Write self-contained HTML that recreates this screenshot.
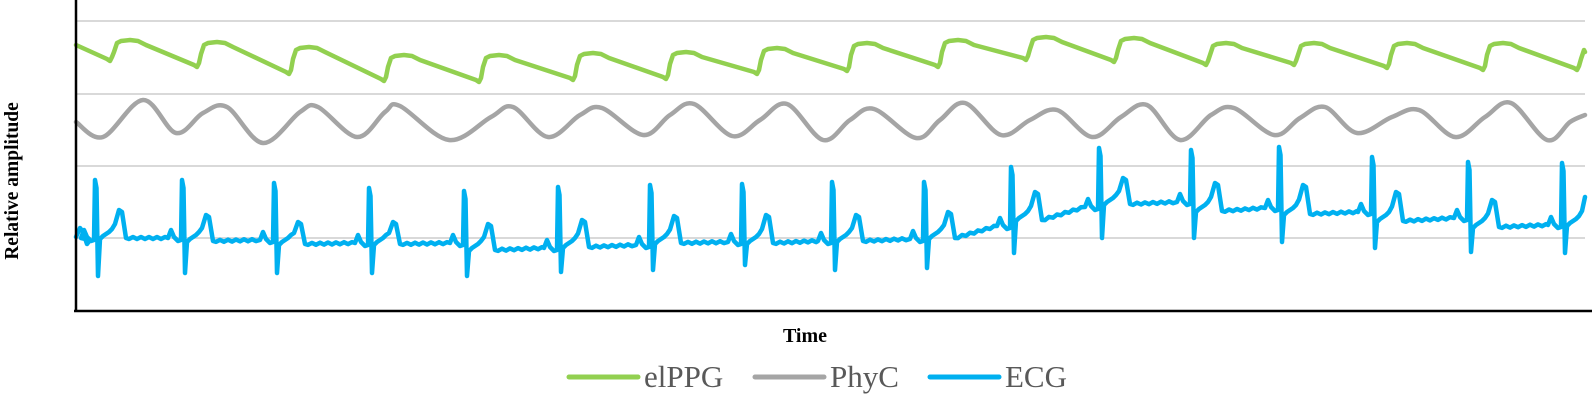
<!DOCTYPE html>
<html><head><meta charset="utf-8"><style>
html,body{margin:0;padding:0;background:#fff;}
svg{display:block;}
</style></head><body>
<svg id="c" width="1592" height="396" viewBox="0 0 1592 396" xmlns="http://www.w3.org/2000/svg">
<g stroke="#d9d9d9" stroke-width="2">
<line x1="76" y1="21" x2="1585" y2="21"/>
<line x1="76" y1="94" x2="1585" y2="94"/>
<line x1="76" y1="166" x2="1585" y2="166"/>
<line x1="76" y1="238" x2="1585" y2="238"/>
</g>
<path id="ppg" fill="none" stroke="#92d050" stroke-width="4.5" stroke-linejoin="round" stroke-linecap="round"/>
<path id="phy" fill="none" stroke="#a5a5a5" stroke-width="4.5" stroke-linejoin="round" stroke-linecap="round"/>
<path id="ecg" fill="none" stroke="#00b0f0" stroke-width="4.5" stroke-linejoin="round" stroke-linecap="round"/>
<line x1="76" y1="0" x2="76" y2="312" stroke="#000" stroke-width="2.5"/>
<line x1="74" y1="311" x2="1592" y2="311" stroke="#000" stroke-width="2.5"/>
<text x="0" y="0" transform="translate(18,181) rotate(-90)" text-anchor="middle" font-family="Liberation Serif, serif" font-weight="bold" font-size="19.5">Relative amplitude</text>
<text x="805" y="342" text-anchor="middle" font-family="Liberation Serif, serif" font-weight="bold" font-size="20">Time</text>
<g stroke-width="5" stroke-linecap="round">
<line x1="569" y1="377" x2="638" y2="377" stroke="#92d050"/>
<line x1="755" y1="377" x2="824" y2="377" stroke="#a5a5a5"/>
<line x1="930" y1="377" x2="999" y2="377" stroke="#00b0f0"/>
</g>
<g font-family="Liberation Serif, serif" font-size="31" fill="#595959">
<text x="644" y="387">elPPG</text>
<text x="830" y="387">PhyC</text>
<text x="1005" y="387">ECG</text>
</g>
</svg>
<script>
(function(){
function toPath(pts){return pts.map((p,i)=>(i?'L':'M')+p[0].toFixed(1)+' '+p[1].toFixed(1)).join(' ');}
var feet=[110,197,289,384,479,573,666,757,847,938,1026,1114,1206,1294,1387,1483,1577];
var fy=[61,67,74,81,82,80,79,74,71,67,60,62,65,65,68,70,70];
var tops=[40,42,47,55,55,53,52,48,43,40,37,38,43,43,43,43,47];
var p=[[76,45]];
for(var i=0;i<feet.length;i++){
 var f=feet[i],y=fy[i],t=tops[i];
 p.push([f-3,y-2],[f,y],[f+2,y-4],[f+4,t+12],[f+7,t+3],[f+11,t+1],[f+20,t],[f+28,t+1],[f+36,t+5]);
}
p=p.filter(q=>q[0]<=1585);
p.push([1585,52]);
document.getElementById('ppg').setAttribute('d',toPath(p));
var k=[[76,122],[103,137],[143,100],[176,133],[203,113],[227,107],[263,143],[300,112],[318,107],[357,137],[385,112],[400,106],[449,140],[491,117],[513,107],[548,137],[580,115],[602,108],[643,135],[670,115],[694,104],[732,136],[760,120],[787,104],[823,140],[850,120],[874,109],[916,138],[940,120],[965,103],[1001,135],[1030,120],[1057,110],[1092,137],[1121,117],[1147,105],[1180,140],[1211,115],[1234,108],[1274,135],[1300,118],[1325,107],[1357,133],[1392,117],[1419,110],[1455,137],[1485,117],[1511,103],[1547,140],[1570,122],[1585,115]];
var d='M'+k[0][0]+' '+k[0][1];
for(var i=0;i<k.length-1;i++){
 var p0=k[Math.max(0,i-1)],p1=k[i],p2=k[i+1],p3=k[Math.min(k.length-1,i+2)];
 var c1=[p1[0]+(p2[0]-p0[0])/6,p1[1]+(p2[1]-p0[1])/6];
 var c2=[p2[0]-(p3[0]-p1[0])/6,p2[1]-(p3[1]-p1[1])/6];
 d+=' C'+c1[0].toFixed(1)+' '+c1[1].toFixed(1)+' '+c2[0].toFixed(1)+' '+c2[1].toFixed(1)+' '+p2[0]+' '+p2[1];
}
document.getElementById('phy').setAttribute('d',d);
var R=[95,182,274,369,464,558,650,742,832,924,1011,1099,1191,1279,1372,1468,1562];
var Ry=[180,180,183,188,191,187,185,184,182,182,167,148,150,147,157,162,163];
var Sy=[276,273,273,273,276,272,270,265,270,268,253,238,238,242,248,252,253];
var Ty=[210,215,222,222,224,220,216,215,215,212,192,178,183,185,192,200,197];
var segs=[[238,238],[238,238],[241,240],[244,243],[244,243],[250,248],[247,245],[243,242],[243,241],[241,239],[238,226],[220,207],[204,202],[211,208],[214,212],[221,218],[227,225],[225,225]];
var e=[[76,237],[80,228],[83,232],[87,244],[90,240]];
for(var i=0;i<R.length;i++){
 var r=R[i],bPre=segs[i][1],bPost=segs[i+1][0],bEnd=segs[i+1][1];
 e.push([r-14,bPre],[r-11,bPre-8],[r-8,bPre-1],[r-4,bPre+3],[r-1,bPre+2],[r,Ry[i]],[r+1.5,Ry[i]+8],[r+3,Sy[i]],[r+5,bPost+1],[r+8,bPost-2],[r+11,bPost-4],[r+14,bPost-6],[r+17,bPost-9],[r+20,(bPost+Ty[i])/2],[r+24,Ty[i]],[r+27,Ty[i]+2],[r+31,bPost]);
 var nx=(i+1<R.length)?R[i+1]-14:1600;
 var x=r+34,j=0;
 while(x<nx){var fr=(x-(r+31))/Math.max(1,(nx-(r+31)));var b=bPost+(bEnd-bPost)*fr;e.push([x,b+((j%2)?-1:1)]);x+=4;j++;}
}
e=e.filter(q=>q[0]<=1585);
if(e[e.length-1][0]<1585) e.push([1585,197]);
document.getElementById('ecg').setAttribute('d',toPath(e));
})();
</script>
</body></html>
